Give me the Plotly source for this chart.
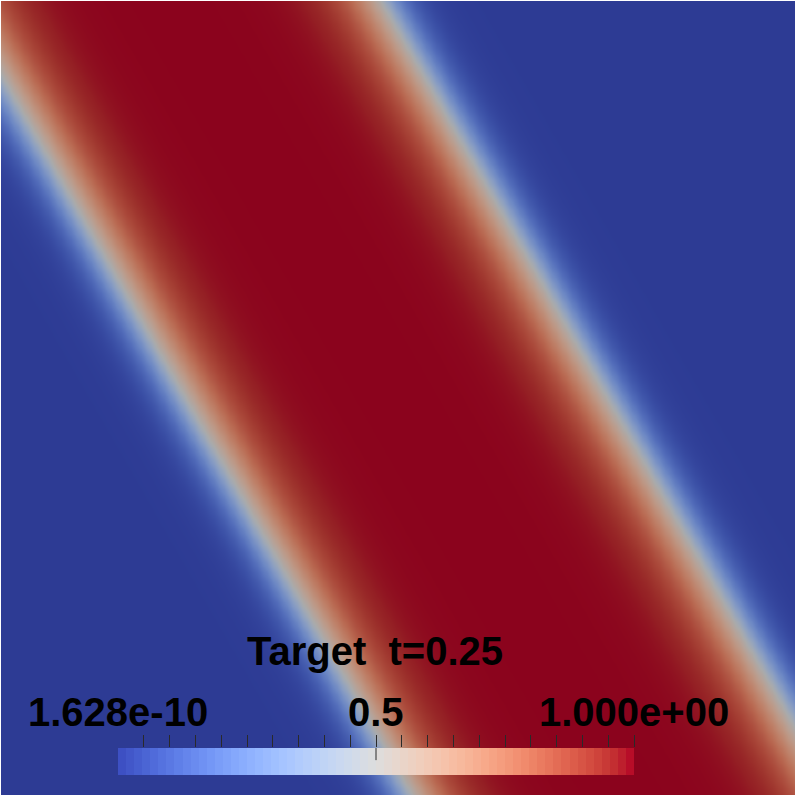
import numpy as np
import plotly.graph_objects as go

# ---------------- data ----------------
# Cool-to-warm colour map (value positions and RGB stops)
cmap_pos = [i / 32 for i in range(33)]
cmap_rgb = [
    (59, 76, 192), (68, 90, 204), (77, 104, 215), (87, 117, 225), (98, 130, 234),
    (108, 142, 241), (119, 154, 247), (130, 165, 251), (141, 176, 254), (152, 185, 255),
    (163, 194, 255), (174, 201, 253), (184, 208, 249), (194, 213, 244), (204, 217, 238),
    (213, 219, 230), (221, 221, 221), (229, 216, 209), (236, 211, 197), (241, 204, 185),
    (245, 196, 173), (247, 187, 160), (247, 177, 148), (247, 166, 135), (244, 154, 123),
    (241, 141, 111), (236, 127, 99), (229, 112, 88), (222, 96, 77), (213, 80, 66),
    (203, 62, 56), (192, 40, 47), (180, 4, 38),
]
shade = 0.77  # lighting darkening of the rendered surface

# Band (value = 1 inside, ~0 outside); 0.5-contour x positions at image row 400
band_left_x = 187
band_right_x = 608
band_slope = 0.57        # dx/dy of the band edges
band_ref_row = 400
edge_width_blue = 30     # transition width on the low side
edge_width_red = 45      # transition width on the high side

# Scalar bar
bar_title = "Target\u00a0 t=0.25"
bar_labels = ["1.628e-10", "0.5", "1.000e+00"]
bar_label_vals = [0.0, 0.5, 1.0]
bar_tick_vals = [round(0.05 * k, 2) for k in range(1, 21)]
bar_bins = 64

# ---------------- build figure ----------------
def rgb(c, f=1.0):
    return "rgb(%d,%d,%d)" % tuple(int(round(v * f)) for v in c)

cs_field = [[p, rgb(c, shade)] for p, c in zip(cmap_pos, cmap_rgb)]
cs_bar = [[p, rgb(c)] for p, c in zip(cmap_pos, cmap_rgb)]

N = 240
xs = np.linspace(1, 795, N)
ys = np.linspace(1, 795, N)
X, Y = np.meshgrid(xs, ys)
xl = band_left_x + band_slope * (Y - band_ref_row)
xr = band_right_x + band_slope * (Y - band_ref_row)

def prof(s):
    return np.where(s < 0, 0.5 * (1 + np.tanh(s / edge_width_blue)),
                    0.5 * (1 + np.tanh(s / edge_width_red)))

Z = np.minimum(prof(X - xl), prof(xr - X))

fig = go.Figure()
fig.add_trace(go.Heatmap(x=xs, y=ys, z=Z, colorscale=cs_field, zmin=0, zmax=1,
                         zsmooth="best", showscale=False, hoverinfo="skip"))

bx = [(i + 0.5) / bar_bins for i in range(bar_bins)]
fig.add_trace(go.Heatmap(x=bx, y=[0.5], z=[bx], colorscale=cs_bar, zmin=0, zmax=1,
                         showscale=False, xaxis="x2", yaxis="y2", hoverinfo="skip"))

def px(x):
    return (x - 1) / 794

def py(y):
    return (795 - y) / 794

fig.update_layout(
    width=797, height=797,
    margin=dict(l=1, r=2, t=1, b=2),
    paper_bgcolor="white", plot_bgcolor="white",
    xaxis=dict(range=[1, 795], visible=False, domain=[0, 1]),
    yaxis=dict(range=[795, 1], visible=False, domain=[0, 1]),
    xaxis2=dict(domain=[px(118), px(634)], anchor="y2", range=[0, 1], side="top",
                ticks="outside", ticklen=12, tickwidth=1, tickcolor="#2a2a2a",
                tickvals=bar_tick_vals, showticklabels=False, showgrid=False,
                zeroline=False, showline=False),
    yaxis2=dict(domain=[py(775), py(748)], anchor="x2", range=[0, 1], visible=False),
    showlegend=False,
)

fig.add_shape(type="line", xref="x2", yref="y2", x0=0.5, x1=0.5, y0=0.55, y1=1.0,
              line=dict(color="#2a2a2a", width=1))

font = dict(family="Liberation Sans, Arial, sans-serif", size=40, color="black",
            weight="bold")
fig.add_annotation(text=bar_title, x=px(375), y=py(651), xref="paper", yref="paper",
                   showarrow=False, xanchor="center", yanchor="middle", font=font)
for t, v in zip(bar_labels, bar_label_vals):
    fig.add_annotation(text=t, x=px(118) + v * (px(634) - px(118)), y=py(712),
                       xref="paper", yref="paper", showarrow=False,
                       xanchor="center", yanchor="middle", font=font)

fig.write_html("out.html", config={"displayModeBar": False},
               post_script="document.body.style.margin='0';")
